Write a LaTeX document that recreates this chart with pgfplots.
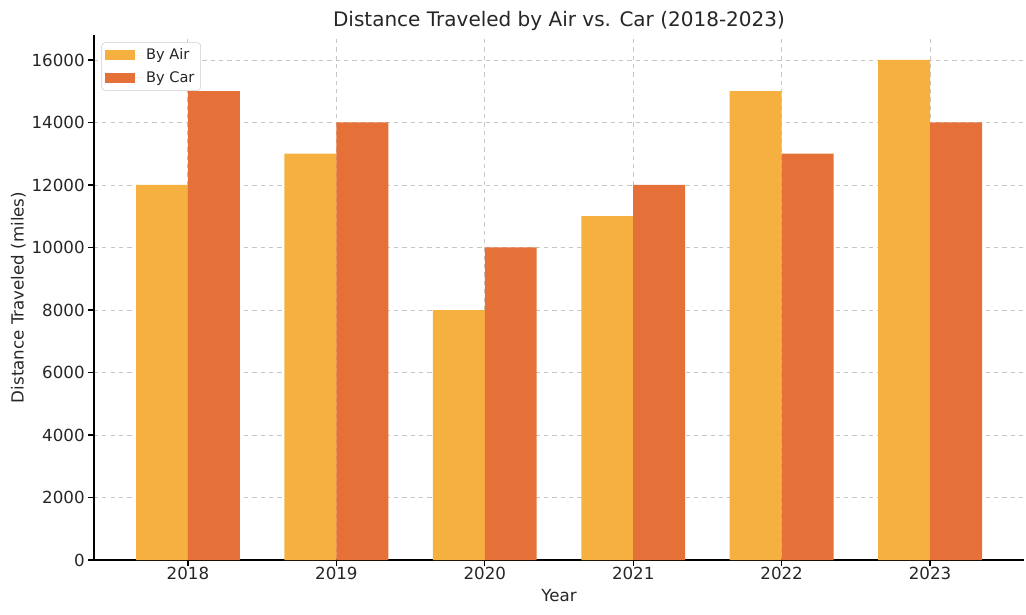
\documentclass[border=0pt]{standalone}
\usepackage{pgfplots}
\pgfplotsset{compat=1.18}
\usepackage{fontspec}
\setmainfont{DejaVu Sans}
\definecolor{air}{HTML}{F5B03F}
\definecolor{car}{HTML}{E57038}
\definecolor{txt}{HTML}{262626}
\begin{document}
\begin{tikzpicture}
\begin{axis}[
  scale only axis, width=669.6pt, height=378pt,
  xmin=-0.633, xmax=5.633, ymin=0, ymax=16800,
  axis x line*=bottom, axis y line*=left,
  axis line style={black, line width=0.96pt},
  ybar, bar width=0.35,
  xtick={0,1,2,3,4,5}, xticklabels={2018,2019,2020,2021,2022,2023},
  ytick={0,2000,4000,6000,8000,10000,12000,14000,16000},
  scaled y ticks=false,
  /pgf/number format/assume math mode=true,
  /pgf/number format/1000 sep={},
  tick label style={font=\fontsize{12pt}{14pt}\selectfont, text=txt},
  xticklabel style={anchor=base, yshift=-9.6pt},
  yticklabel style={anchor=east, xshift=1pt},
  tick align=outside, major tick length=4.2pt,
  tick style={black, line width=0.96pt},
  grid=major, grid style={dashed, black!22, line width=0.7pt},
  title={Distance Traveled by Air vs. Car (2018-2023)},
  title style={font=\fontsize{14.4pt}{17pt}\selectfont, text=txt, at={(axis description cs:0.5,1)}, anchor=base, yshift=-0.2pt},
  xlabel={Year},
  xlabel style={font=\fontsize{12pt}{14pt}\selectfont, text=txt, at={(axis description cs:0.5,0)}, anchor=base, yshift=-30.2pt},
  ylabel={Distance Traveled (miles)},
  ylabel style={font=\fontsize{12pt}{14pt}\selectfont, text=txt, at={(axis description cs:0,0.5)}, anchor=center, yshift=54.5pt},
  legend style={at={(axis description cs:0,1)}, anchor=north west, xshift=5.3pt, yshift=-5.3pt,
    draw=black!20, rounded corners=2.5pt, fill=white, font=\fontsize{10.5pt}{12pt}\selectfont, text=txt,
    inner xsep=2.5pt, inner ysep=2.5pt, row sep=2.6pt},
  legend cell align=left,
  legend image code/.code={\fill[#1, sharp corners] (0pt,-3.6pt) rectangle (21.3pt,3.6pt); \path (0pt,0pt) -- (27.5pt,0pt);},
]
\addplot[fill=air, draw=none, bar shift=-0.175] coordinates {(0,12000) (1,13000) (2,8000) (3,11000) (4,15000) (5,16000)};
\addlegendentry{By Air}
\addplot[fill=car, draw=none, bar shift=0.175] coordinates {(0,15000) (1,14000) (2,10000) (3,12000) (4,13000) (5,14000)};
\addlegendentry{By Car}
\coordinate (bl) at (rel axis cs:0,0);
\coordinate (tr) at (rel axis cs:1,1);
\end{axis}
\pgfresetboundingbox
\path ([shift={(-67.68pt,-38.88pt)}]bl) rectangle ([shift={(1.44pt,25.2pt)}]tr);
\end{tikzpicture}
\end{document}
